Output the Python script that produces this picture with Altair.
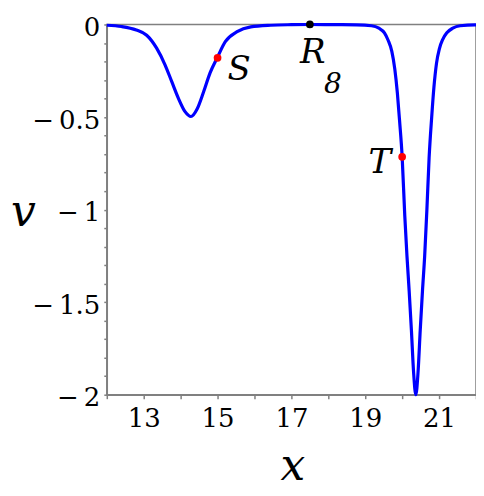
import altair as alt
import pandas as pd

# curve
curve_x = [12.0, 12.4, 12.8, 13.08, 13.35, 13.58, 13.76, 13.94, 14.12, 14.28,
           14.45, 14.62, 14.80, 14.99, 15.21, 15.53, 15.90, 16.44, 17.0, 17.5,
           18.2, 18.77, 19.17, 19.37, 19.52, 19.62, 19.72, 19.80, 19.87, 19.93,
           20.00, 20.07, 20.13, 20.19, 20.25, 20.31, 20.37, 20.43, 20.49, 20.55,
           20.61, 20.67, 20.73, 20.80, 20.86, 20.93, 21.01, 21.10, 21.21, 21.37,
           21.57, 21.97, 22.0]
curve_v = [-0.004, -0.011, -0.030, -0.058, -0.128, -0.219, -0.309, -0.399, -0.471, -0.497,
           -0.455, -0.365, -0.26, -0.18, -0.093, -0.039, -0.013, -0.004, -0.001, 0.0,
           -0.001, -0.002, -0.007, -0.02, -0.045, -0.085, -0.145, -0.24, -0.37, -0.52,
           -0.715, -1.03, -1.25, -1.44, -1.65, -1.88, -2.0, -1.88, -1.65, -1.44,
           -1.25, -1.0, -0.72, -0.50, -0.34, -0.21, -0.13, -0.08, -0.045, -0.02,
           -0.007, -0.002, -0.002]

# marked points
pt_name = ["S", "R", "T"]
pt_x = [15.0, 17.5, 20.0]
pt_v = [-0.18, 0.0, -0.715]
pt_color = ["#ff0000", "#000000", "#ff0000"]

# ticks
x_ticks = [12, 13, 14, 15, 16, 17, 18, 19, 20, 21, 22]
y_ticks = [0, -0.1, -0.2, -0.3, -0.4, -0.5, -0.6, -0.7, -0.8, -0.9, -1,
           -1.1, -1.2, -1.3, -1.4, -1.5, -1.6, -1.7, -1.8, -1.9, -2]

df_curve = pd.DataFrame({"x": curve_x, "v": curve_v})
df_pts = pd.DataFrame({"name": pt_name, "x": pt_x, "v": pt_v, "color": pt_color})

FONT = "DejaVu Serif"
GREY = "#808080"

xscale = alt.Scale(domain=[12, 22], nice=False, zero=False)
yscale = alt.Scale(domain=[-2, 0], nice=False, zero=False)

xaxis = alt.Axis(
    values=x_ticks, title="x", grid=False,
    labelExpr="datum.value % 2 == 1 ? datum.label : ''",
    labelFont=FONT, labelFontSize=26, labelColor="black", labelPadding=7,
    labelFlush=False, labelOverlap=False,
    tickSize=4, tickColor=GREY, tickWidth=1.5,
    domainColor=GREY, domainWidth=1.5,
    titleFont=FONT, titleFontSize=44, titleFontStyle="italic", titleFontWeight="normal",
    titleColor="black", titleX=186, titleY=85, titleAlign="center",
    titleBaseline="alphabetic",
)
yaxis = alt.Axis(
    values=y_ticks, title="v", grid=False,
    labelExpr="abs(datum.value*2 - round(datum.value*2)) < 0.001 ? (datum.value < 0 ? '\u2212\u2009' + format(-datum.value, '') : '0') : ''",
    labelFont=FONT, labelFontSize=26, labelColor="black", labelPadding=4,
    labelFlush=False, labelOverlap=False, labelOffset=3,
    tickSize=3, tickColor=GREY, tickWidth=1.5,
    domainColor=GREY, domainWidth=1.5,
    titleFont=FONT, titleFontSize=44, titleFontStyle="italic", titleFontWeight="normal",
    titleColor="black", titleAngle=0, titleX=-84, titleY=201, titleAlign="center",
    titleBaseline="alphabetic",
)

X = alt.X("x:Q", scale=xscale, axis=xaxis)
Y = alt.Y("v:Q", scale=yscale, axis=yaxis)

line = alt.Chart(df_curve).mark_line(
    color="#0000ff", strokeWidth=3.2, interpolate="monotone"
).encode(x=X, y=Y, order="x:Q")

pts = alt.Chart(df_pts).mark_circle(size=60, opacity=1).encode(
    x=X, y=Y,
    color=alt.Color("color:N", scale=None),
)

def label(name, text, dx, dy, align, size=34):
    return alt.Chart(df_pts).transform_filter(
        alt.datum.name == name
    ).mark_text(
        text=text, dx=dx, dy=dy, align=align, baseline="alphabetic",
        font=FONT, fontSize=size, fontStyle="italic", color="black",
    ).encode(x=X, y=Y)

labels = [
    label("S", "S", 10, 22, "left"),
    label("R", "R", 3, 39, "center"),
    label("R", "8", 23, 69, "center", size=28),
    label("T", "T", -11, 16, "right"),
]

chart = alt.layer(line, pts, *labels).properties(
    width=370, height=371,
    autosize=alt.AutoSizeParams(type="none"),
    padding={"left": 99, "top": 16, "right": 0, "bottom": 100},
).configure_view(
    stroke=GREY, strokeWidth=1.5
)

chart.save("out.html", embed_options={"renderer": "svg", "actions": False})
